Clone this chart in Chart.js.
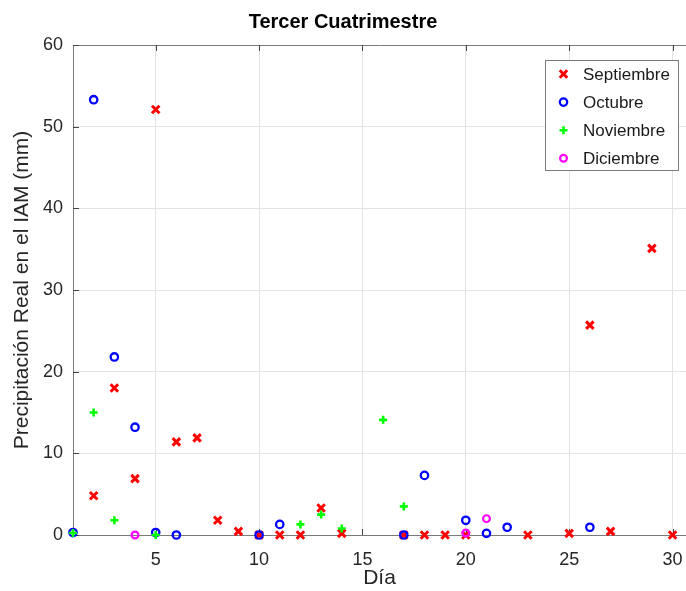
<!DOCTYPE html>
<html><head><meta charset="utf-8">
<script src="https://cdn.jsdelivr.net/npm/chart.js@4"></script>
<style>html,body{margin:0;padding:0;background:#fff;overflow:hidden}#wrap{width:686px;height:591px;position:relative}</style>
</head><body><div id="wrap"><canvas id="c" width="686" height="591"></canvas></div>
<script>
const titleText = 'Tercer Cuatrimestre';
const xTitle = 'Día';
const yTitle = 'Precipitación Real en el IAM (mm)';
const seriesNames = ['Septiembre', 'Octubre', 'Noviembre', 'Diciembre'];
const sepDays   = [2, 3, 4, 5, 6, 7, 8, 9, 10, 11, 12, 13, 14, 17, 18, 19, 20, 23, 25, 26, 27, 29, 30];
const sepValues = [4.8, 18.0, 6.9, 52.1, 11.4, 11.9, 1.8, 0.45, 0, 0, 0, 3.3, 0.2, 0, 0, 0, 0, 0, 0.2, 25.7, 0.45, 35.1, 0];
const octDays   = [1, 2, 3, 4, 5, 6, 10, 11, 17, 18, 20, 21, 22, 26];
const octValues = [0.3, 53.3, 21.8, 13.2, 0.3, 0, 0, 1.3, 0, 7.3, 1.8, 0.2, 0.95, 0.95];
const novDays   = [1, 2, 3, 5, 12, 13, 14, 16, 17];
const novValues = [0.25, 15.0, 1.8, 0, 1.3, 2.5, 0.8, 14.1, 3.5];
const dicDays   = [4, 20, 21];
const dicValues = [0, 0.25, 2.0];
const xTicks = [5, 10, 15, 20, 25, 30];
const yTicks = [0, 10, 20, 30, 40, 50, 60];

const FONT = "'Liberation Sans', Arial, Helvetica, sans-serif";
const toPts = (d, v) => d.map((x, i) => ({x: x, y: v[i]}));

const styles = [
  {color: '#ff0000', pointStyle: 'crossRot', radius: 5.3, bw: 3},
  {color: '#0000ff', pointStyle: 'circle', radius: 3.7, bw: 2.3},
  {color: '#00ff00', pointStyle: 'cross', radius: 4, bw: 2.6},
  {color: '#ff00ff', pointStyle: 'circle', radius: 3.4, bw: 2.2}
];
const seriesData = [toPts(sepDays, sepValues), toPts(octDays, octValues), toPts(novDays, novValues), toPts(dicDays, dicValues)];

const datasets = seriesNames.map((name, i) => ({
  label: name,
  data: seriesData[i],
  showLine: false,
  pointStyle: styles[i].pointStyle,
  pointRadius: styles[i].radius,
  pointHoverRadius: styles[i].radius,
  pointBorderWidth: styles[i].bw,
  pointBorderColor: styles[i].color,
  pointBackgroundColor: 'rgba(0,0,0,0)',
  borderColor: styles[i].color,
  backgroundColor: 'rgba(0,0,0,0)',
  clip: false,
  order: 3 - i
}));

function drawMarker(ctx, style, x, y) {
  ctx.save();
  ctx.strokeStyle = style.color;
  ctx.lineWidth = style.bw;
  ctx.beginPath();
  const r = style.radius;
  if (style.pointStyle === 'circle') {
    ctx.arc(x, y, r, 0, Math.PI * 2);
  } else if (style.pointStyle === 'cross') {
    ctx.moveTo(x - r, y); ctx.lineTo(x + r, y);
    ctx.moveTo(x, y - r); ctx.lineTo(x, y + r);
  } else {
    const d = r * Math.SQRT1_2;
    ctx.moveTo(x - d, y - d); ctx.lineTo(x + d, y + d);
    ctx.moveTo(x + d, y - d); ctx.lineTo(x - d, y + d);
  }
  ctx.stroke();
  ctx.restore();
}

const framePlugin = {
  id: 'frame',
  beforeDatasetsDraw(chart) {
    const {ctx, chartArea: a, scales} = chart;
    ctx.save();
    ctx.strokeStyle = '#7a7a7a';
    ctx.lineWidth = 1;
    ctx.beginPath();
    ctx.moveTo(a.left, a.top + 0.5); ctx.lineTo(a.right, a.top + 0.5);
    ctx.stroke();
    ctx.strokeStyle = '#444';
    ctx.beginPath();
    yTicks.forEach(v => {
      const y = Math.round(scales.y.getPixelForValue(v)) + 0.5;
      ctx.moveTo(a.left, y); ctx.lineTo(a.left + 6, y);
    });
    xTicks.forEach(v => {
      const x = Math.round(scales.x.getPixelForValue(v)) + 0.5;
      ctx.moveTo(x, a.bottom); ctx.lineTo(x, a.bottom - 6);
      ctx.moveTo(x, a.top); ctx.lineTo(x, a.top + 6);
    });
    ctx.stroke();
    ctx.restore();
  },
  afterDraw(chart) {
    const {ctx} = chart;
    const box = {x: 545.5, y: 60.5, w: 133, h: 110};
    ctx.save();
    ctx.fillStyle = '#ffffff';
    ctx.fillRect(box.x, box.y, box.w, box.h);
    ctx.strokeStyle = '#7a7a7a';
    ctx.lineWidth = 1;
    ctx.strokeRect(box.x, box.y, box.w, box.h);
    ctx.font = '17px ' + FONT;
    ctx.fillStyle = '#1a1a1a';
    ctx.textBaseline = 'middle';
    ctx.textAlign = 'left';
    chart.data.datasets.forEach((ds, i) => {
      const y = 74 + i * 28.1;
      drawMarker(ctx, styles[i], 563.5, y);
      ctx.fillText(ds.label, 583, y + 1);
    });
    ctx.restore();
  }
};

new Chart(document.getElementById('c'), {
  type: 'scatter',
  data: {datasets: datasets},
  options: {
    responsive: false,
    devicePixelRatio: 1,
    animation: false,
    layout: {autoPadding: false, padding: {left: 0, right: 0, top: 0, bottom: 0}},
    plugins: {
      legend: {display: false},
      tooltip: {enabled: false},
      title: {
        display: true,
        text: titleText,
        color: '#000',
        font: {family: FONT, size: 20, weight: 'bold', lineHeight: 1.2},
        padding: {top: 10.5, bottom: 10.5}
      }
    },
    scales: {
      x: {
        type: 'linear',
        min: 1,
        max: 30.65,
        afterBuildTicks(scale) { scale.ticks = xTicks.map(v => ({value: v})); },
        afterFit(scale) { scale.height = 56; scale.paddingRight = 0; scale.paddingLeft = 0; },
        grid: {color: '#e3e3e3', drawTicks: false, lineWidth: 1},
        border: {display: true, color: '#7a7a7a', width: 1},
        ticks: {color: '#262626', font: {family: FONT, size: 18}, padding: 14, maxRotation: 0, autoSkip: false},
        title: {display: true, text: xTitle, color: '#262626', font: {family: FONT, size: 21, lineHeight: 1.2}, padding: {top: 0, bottom: 0}}
      },
      y: {
        type: 'linear',
        min: 0,
        max: 60,
        afterBuildTicks(scale) { scale.ticks = yTicks.map(v => ({value: v})); },
        afterFit(scale) { scale.width = 73; },
        grid: {color: '#e3e3e3', drawTicks: false, lineWidth: 1},
        border: {display: true, color: '#7a7a7a', width: 1},
        ticks: {color: '#262626', font: {family: FONT, size: 18}, padding: 10},
        title: {display: true, text: yTitle, color: '#262626', font: {family: FONT, size: 21, lineHeight: 1.2}, padding: {top: 10, bottom: 0}}
      }
    }
  },
  plugins: [framePlugin]
});
</script>
</body></html>
